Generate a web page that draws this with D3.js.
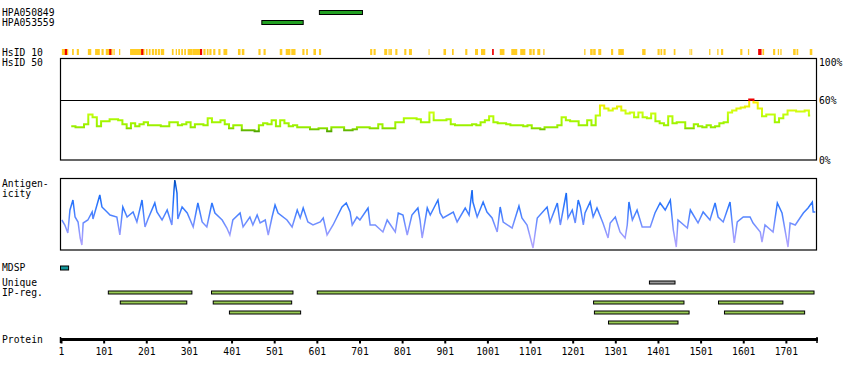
<!DOCTYPE html>
<html><head><meta charset="utf-8">
<script src="https://cdn.jsdelivr.net/npm/d3@7"></script>
<style>
body{margin:0;background:#fff}
text{font-family:"DejaVu Sans Mono",monospace;font-size:9.7px;fill:#000}
</style>
</head><body><svg id="c" width="850" height="380"></svg>
<script>
// ---------------- DATA ----------------
const proteinLength = 1774;
const axisTicks = [1,101,201,301,401,501,601,701,801,901,1001,1101,1201,1301,1401,1501,1601,1701];
const antibodyNames = ["HPA050849","HPA053559"];
const antibodyStart = [607, 472];
const antibodyEnd = [708, 569];

const hsidYellow = [[3,17],[27,30],[38,42],[64,71],[81,91],[96,100],[106,121],[124,126],[137,139],[163,196],[200,203],[207,210],[214,218],[221,225],[228,232],[235,242],[261,264],[270,272],[276,279],[283,286],[290,293],[298,308],[309,327],[335,339],[343,346],[349,353],[358,362],[370,374],[382,390],[416,421],[425,430],[464,468],[476,480],[514,519],[528,538],[541,550],[567,571],[576,579],[593,598],[606,610],[726,730],[734,738],[759,765],[769,771],[773,776],[785,789],[806,810],[817,823],[863,864],[898,903],[918,921],[949,953],[972,978],[986,995],[1030,1040],[1057,1070],[1078,1089],[1099,1104],[1107,1111],[1118,1124],[1132,1134],[1228,1230],[1242,1247],[1249,1254],[1261,1267],[1291,1295],[1308,1320],[1364,1371],[1400,1404],[1407,1410],[1414,1418],[1438,1441],[1475,1476],[1479,1480],[1521,1523],[1540,1542],[1549,1553],[1594,1598],[1612,1614],[1646,1649],[1671,1675],[1682,1684],[1688,1690],[1718,1723],[1726,1729],[1757,1762]];
const hsidRed = [[10,14],[114,118],[189,193],[327,331],[1012,1015],[1636,1643]];

const identityStart = 25;
const identityStep = 10;
const identityValues = [34,33,33,36,46,43,34,39,39,41,
 41,40,36,32,37,34,36,38,35,35,
 35,34,34,38,38,35,36,38,33,36,
 36,35,42,38,38,40,36,32,35,35,
 30,30,30,29,35,37,36,40,34,40,
 37,34,35,33,33,33,31,31,32,32,
 29,33,33,33,30,30,31,33,33,33,
 32,32,36,32,32,32,38,38,42,42,
 42,41,38,38,48,40,40,40,41,36,
 35,35,35,35,36,35,38,40,44,38,
 37,37,36,35,35,35,34,35,32,32,
 31,33,33,33,35,43,40,39,39,35,
 35,40,35,45,55,52,50,52,54,50,
 47,48,43,48,43,42,47,39,37,35,
 44,37,38,38,32,32,36,34,33,35,
 33,34,37,38,48,50,52,53,54,61,
 58,52,44,46,46,38,42,46,50,50,
 49,49,50,45];

const antigenPos = [3,10,17,22,29,34,41,46,50,53,64,74,76,92,97,109,116,132,139,146,156,170,179,191,198,205,221,226,238,250,261,266,268,273,275,285,297,311,322,332,343,355,362,379,390,397,404,421,428,444,451,461,468,480,487,496,503,510,531,543,555,
 562,569,580,592,609,616,625,639,660,670,679,684,695,702,721,726,738,756,766,785,792,803,813,824,838,843,848,860,867,885,890,897,921,930,949,958,965,967,977,991,1000,1012,1024,1031,1038,1059,1075,1082,1094,1108,1118,1141,1148,1165,1172,1186,1190,
 1200,1207,1214,1219,1226,1230,1242,1249,1258,1272,1284,1289,1301,1312,1324,1329,1333,1341,1352,1364,1383,1394,1406,1418,1430,1437,1444,1448,1470,1477,1495,1507,1523,1535,1542,1554,1570,1575,1580,1587,1601,1617,1624,1641,1645,1652,1671,1681,1692,1706,1711,1723,1742,1753,1763,1765,1770];
const antigenVal = [30,25,17,40,50,33,28,12,5,27,30,38,31,55,43,38,35,33,15,43,33,38,28,50,23,31,47,38,30,40,25,60,70,57,31,43,37,23,47,28,23,47,37,30,22,15,30,37,23,33,25,35,27,30,15,33,45,37,30,23,40,
 32,42,28,25,28,32,15,25,43,47,38,25,33,30,42,25,25,18,30,18,37,35,15,35,42,30,12,42,35,50,37,32,38,28,42,35,60,48,33,48,38,32,18,43,28,22,44,32,25,2,32,43,28,47,25,57,32,
 40,27,50,43,25,37,48,33,42,27,12,27,33,18,12,25,48,30,40,23,23,37,47,40,50,20,3,30,22,40,27,38,30,47,33,28,48,27,7,28,33,33,27,18,8,25,18,47,37,3,27,25,37,42,48,38,38];

const mdspRegion = [1, 20];
const uniqueRegion = [1381, 1441];
const ipRegStart = [112, 354, 602, 140, 358, 1250, 1543, 396, 1252, 1557, 1285];
const ipRegEnd   = [308, 545, 1767, 296, 542, 1462, 1694, 563, 1474, 1745, 1448];
const ipRegRow   = [0, 0, 0, 1, 1, 1, 1, 2, 2, 2, 3];

// ---------------- DRAW ----------------
const svg = d3.select("#c");
const x = d3.scaleLinear().domain([1, proteinLength]).range([61, 817]);
const L = 60.5, R = 816.5;

function label(t, xx, yy, anchor) {
  svg.append("text").attr("x", xx).attr("y", yy).attr("text-anchor", anchor || "start").text(t);
}

// antibodies
antibodyNames.forEach((n, i) => {
  label(n, 2, 16 + i * 10);
  svg.append("rect").attr("x", x(antibodyStart[i])).attr("y", 10.5 + i * 10)
    .attr("width", x(antibodyEnd[i]) - x(antibodyStart[i])).attr("height", 4)
    .attr("fill", "#22a022").attr("stroke", "#000").attr("stroke-width", 1);
});

// HsID strip
label("HsID 10", 2, 55.5);
label("HsID 50", 2, 65.5);
const strip = svg.append("g");
function stripSeg(arr, col) {
  strip.selectAll(null).data(arr).enter().append("rect")
    .attr("x", d => x(d[0]))
    .attr("y", 49)
    .attr("width", d => Math.max(1, x(d[1] + 1) - x(d[0])))
    .attr("height", 6)
    .attr("fill", col);
}
stripSeg(hsidYellow, "#ffcc22");
stripSeg(hsidRed, "#ee0000");

// Identity panel
const yId = d3.scaleLinear().domain([0, 60]).range([160, 100.5]);
const defs = svg.append("defs");
const gId = defs.append("linearGradient").attr("id", "gid").attr("gradientUnits", "userSpaceOnUse")
  .attr("x1", 0).attr("x2", 0).attr("y1", yId(0)).attr("y2", yId(100));
[[0,"#449900"],[28,"#449900"],[31,"#77cc00"],[33,"#99ee00"],[40,"#a6f800"],[48,"#ccff11"],[55,"#eeee00"],[59.8,"#ffee00"],[59.9,"#ee0000"],[100,"#ee0000"]]
  .forEach(s => gId.append("stop").attr("offset", s[0] / 100).attr("stop-color", s[1]));

svg.append("rect").attr("x", L).attr("y", 58.5).attr("width", R - L).attr("height", 101.5)
  .attr("fill", "none").attr("stroke", "#000").attr("stroke-width", 1.2);
svg.append("line").attr("x1", L).attr("x2", R).attr("y1", 100.5).attr("y2", 100.5)
  .attr("stroke", "#000").attr("stroke-width", 1.2);
label("100%", 819, 65.5);
label("60%", 819, 104);
label("0%", 819, 163.5);

const idPts = identityValues.map((v, i) => [identityStart + i * identityStep, v]);
idPts.push([identityStart + identityValues.length * identityStep - 7, identityValues[identityValues.length - 1]]);
svg.append("path").datum(idPts)
  .attr("d", d3.line().x(d => x(d[0])).y(d => yId(d[1])).curve(d3.curveStepAfter))
  .attr("fill", "none").attr("stroke", "url(#gid)").attr("stroke-width", 2);

// Antigenicity
label("Antigen-", 2, 187);
label("icity", 2, 196.5);
const yAg = d3.scaleLinear().domain([0, 72]).range([250, 178]);
const gAg = defs.append("linearGradient").attr("id", "gag").attr("gradientUnits", "userSpaceOnUse")
  .attr("x1", 0).attr("x2", 0).attr("y1", yAg(0)).attr("y2", yAg(72));
[[0,"#b8a8ff"],[15,"#9a9cff"],[28,"#6a8cff"],[40,"#3a7cff"],[55,"#1a6cf8"],[66,"#0a58d0"],[72,"#0040a0"]]
  .forEach(s => gAg.append("stop").attr("offset", s[0] / 72).attr("stop-color", s[1]));
svg.append("rect").attr("x", L).attr("y", 178.5).attr("width", R - L).attr("height", 71.5)
  .attr("fill", "none").attr("stroke", "#000").attr("stroke-width", 1.2);
const agPts = antigenPos.map((p, i) => [p, antigenVal[i]]);
svg.append("path").datum(agPts)
  .attr("d", d3.line().x(d => x(d[0])).y(d => yAg(d[1])).curve(d3.curveLinear))
  .attr("fill", "none").attr("stroke", "url(#gag)").attr("stroke-width", 1.5);

// MDSP / Unique / IP-reg
label("MDSP", 2, 271);
svg.append("rect").attr("x", x(mdspRegion[0]) - 0.5).attr("y", 266).attr("width", x(mdspRegion[1]) - x(mdspRegion[0]))
  .attr("height", 4).attr("fill", "#14969a").attr("stroke", "#000").attr("stroke-width", 1);
label("Unique", 2, 286);
label("IP-reg.", 2, 295.5);
svg.append("rect").attr("x", x(uniqueRegion[0])).attr("y", 281).attr("width", x(uniqueRegion[1]) - x(uniqueRegion[0]))
  .attr("height", 3).attr("fill", "#999999").attr("stroke", "#000").attr("stroke-width", 1);
svg.append("g").selectAll("rect").data(ipRegStart).enter().append("rect")
  .attr("x", (d) => x(d))
  .attr("y", (d, i) => 291 + ipRegRow[i] * 10)
  .attr("width", (d, i) => x(ipRegEnd[i]) - x(d))
  .attr("height", 3)
  .attr("fill", "#99cc55").attr("stroke", "#000").attr("stroke-width", 1);

// Protein axis
label("Protein", 2, 343);
const ax = svg.append("g").attr("transform", "translate(0,339.5)")
  .call(d3.axisBottom(x).tickValues(axisTicks).tickFormat(d3.format("d")).tickSize(4).tickSizeOuter(0).tickPadding(5));
ax.select(".domain").remove();
ax.selectAll(".tick line").attr("stroke", "#000").attr("stroke-width", 2);
ax.selectAll(".tick text").style("font-family", "DejaVu Sans Mono").style("font-size", "9.7px").attr("fill", "#000");
ax.append("line").attr("x1", 60).attr("x2", 818).attr("y1", 0).attr("y2", 0).attr("stroke", "#000").attr("stroke-width", 3);
[60.5, 817].forEach(xx => ax.append("line").attr("x1", xx).attr("x2", xx).attr("y1", -2.5).attr("y2", 3.5).attr("stroke", "#000").attr("stroke-width", 1.5));
</script>
</body></html>
